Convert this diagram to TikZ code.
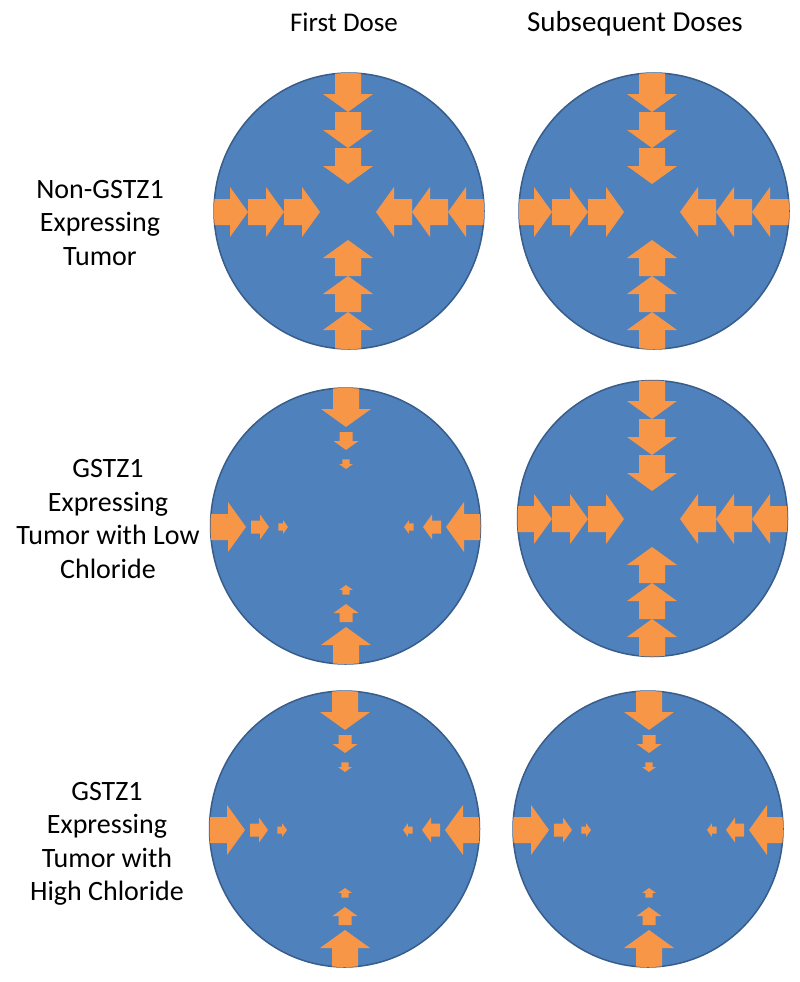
\documentclass[tikz,border=0pt]{standalone}
\usepackage{fontspec}
\setmainfont{Carlito}
\definecolor{discblue}{HTML}{4F81BD}
\definecolor{discedge}{HTML}{385D8A}
\definecolor{arroworange}{HTML}{F79646}
\tikzset{
  disc/.style={fill=discblue, draw=discedge, line width=1.5pt},
  arrowfill/.style={fill=arroworange},
  rowlabel/.style={align=center, font=\fontsize{28}{33.5}\selectfont, inner sep=0pt},
  collabel/.style={anchor=base, font=\fontsize{27}{32}\selectfont, inner sep=0pt}
}
% inward arrow along +x axis: tip at distance #1, scale #2, tail at #1+36*#2 (+#3 extra)
\newcommand{\inarrow}[3]{%
  \fill[arrowfill] (#1,0) -- ++({18*#2},{25*#2}) -- ++(0,{-12*#2}) -- ++({18*#2+#3},0)
    -- ++(0,{-26*#2}) -- ++({-18*#2-#3},0) -- ++(0,{-12*#2}) -- cycle;}
\newcommand{\bigset}{%
  \foreach \a in {0,90,180,270}{%
    \begin{scope}[rotate=\a]
      \inarrow{28}{1}{0}\inarrow{64}{1}{0}\inarrow{100}{1}{14}
    \end{scope}}}
\newcommand{\smallset}{%
  \foreach \a in {0,90,180,270}{%
    \begin{scope}[rotate=\a]
      \inarrow{58}{0.27}{0}\inarrow{77}{0.5}{0}\inarrow{100}{1}{14}
    \end{scope}}}
\newcommand{\panel}[5]{% name, ellipse center x,y, arrow center, set
  \node[disc, ellipse, minimum width=270pt, minimum height=276pt, inner sep=0pt] (#1) at (#2,#3) {};
  \begin{scope}
    \clip (#2,#3) ellipse [x radius=135, y radius=138];
    \begin{scope}[shift={#4}]
      #5
    \end{scope}
  \end{scope}}
\usetikzlibrary{shapes.geometric}
\begin{document}
\begin{tikzpicture}[x=1pt,y=-1pt]
\useasboundingbox (0,0) rectangle (800,982);
\fill[white] (0,0) rectangle (800,982);

\node[collabel] (h1) at (344,32) {First Dose};
\node[collabel, font=\fontsize{29}{34}\selectfont] (h2) at (635,32) {Subsequent Doses};

\node[rowlabel] (l1) at (100,223) {Non-GSTZ1\\Expressing\\Tumor};
\node[rowlabel] (l2) at (108,519) {GSTZ1\\Expressing\\Tumor with Low\\Chloride};
\node[rowlabel] (l3) at (107,844) {GSTZ1\\Expressing\\Tumor with\\High Chloride};

\panel{p1}{349}{211}{(348,212)}{\bigset}
\panel{p2}{654}{211}{(652,212)}{\bigset}
\panel{p3}{345.5}{526}{(346,527)}{\smallset}
\panel{p4}{652.5}{518.5}{(652,519)}{\bigset}
\panel{p5}{344.5}{829}{(345,830)}{\smallset}
\panel{p6}{648}{829}{(649,830)}{\smallset}
\end{tikzpicture}
\end{document}
